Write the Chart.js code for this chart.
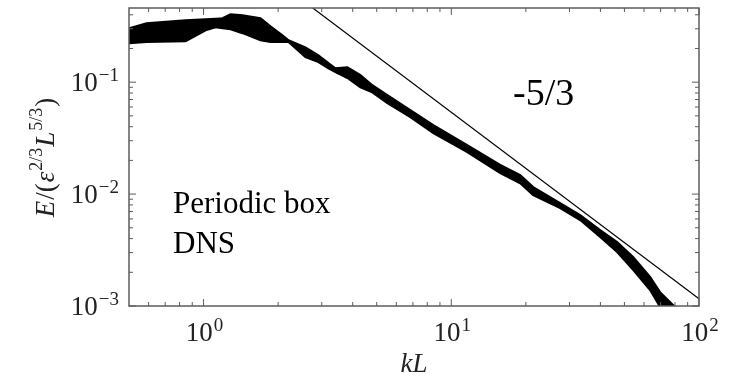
<!DOCTYPE html>
<html lang="en">
<head>
    <meta charset="UTF-8">
    <title>Energy spectrum</title>
    <script src="https://cdn.jsdelivr.net/npm/chart.js"></script>
    <style>
        body, html {
            margin: 0;
            padding: 0;
            background: #fff;
        }
    </style>
</head>
<body>
    <canvas id="spectrum" width="739" height="378"></canvas>

    <script>
        // band of DNS spectra: upper and lower edge at the same kL samples
        const kL = [0.5, 0.589, 0.846, 1.019, 1.118, 1.193, 1.285, 1.436, 1.697, 1.863,
                    2.082, 2.202, 2.578, 2.909, 3.192, 3.406, 3.808, 4.297, 4.802, 5.521,
                    6.834, 8.464, 11.6, 15.76, 18.98, 21.41, 27.51, 33.13, 39.89, 46.71,
                    54.19, 63.45, 69.63, 80.06, 91.99];
        const upperE = [0.303, 0.336, 0.358, 0.365, 0.369, 0.373, 0.405, 0.396, 0.373, 0.316,
                        0.263, 0.237, 0.205, 0.174, 0.148, 0.133, 0.136, 0.116, 0.094, 0.0766,
                        0.0562, 0.0413, 0.0274, 0.0182, 0.0148, 0.01155, 0.00831, 0.00649, 0.00477, 0.00373,
                        0.00274, 0.00182, 0.00133, 0.00098, 0.00061];
        const lowerE = [0.223, 0.228, 0.232, 0.291, 0.310, 0.303, 0.297, 0.274, 0.237, 0.228,
                        0.228, 0.228, 0.167, 0.151, 0.133, 0.123, 0.109, 0.090, 0.081, 0.065,
                        0.0487, 0.0350, 0.0237, 0.0154, 0.0125, 0.0098, 0.0075, 0.00586, 0.00413, 0.00303,
                        0.00210, 0.00139, 0.00098, 0.00061, 0.00037];

        // -5/3 reference line (end points)
        const slopeKL = [2.6, 100];
        const slopeE = [0.508, 0.00116];

        // axis ticks
        const xMajor = [1, 10, 100];
        const xExp = ['0', '1', '2'];
        const yMajor = [0.1, 0.01, 0.001];
        const yExp = ['\u22121', '\u22122', '\u22123'];

        const serif = '"Liberation Serif", "DejaVu Serif", serif';
        const frameColor = '#5c5c5c';

        function pts(xs, ys) {
            return xs.map((x, i) => ({ x: x, y: ys[i] }));
        }

        function minorTicks(min, max) {
            const out = [];
            for (let d = Math.floor(Math.log10(min)); d <= Math.ceil(Math.log10(max)); d++) {
                for (let m = 2; m <= 9; m++) {
                    const v = m * Math.pow(10, d);
                    if (v > min && v < max) out.push(v);
                }
            }
            return out;
        }

        function drawPow(ctx, exp, x, baseline, align) {
            ctx.font = '27px ' + serif;
            const wBase = ctx.measureText('10').width;
            ctx.font = '19px ' + serif;
            const wExp = ctx.measureText(exp).width + 1;
            const total = wBase + wExp;
            let start = x - total / 2;
            if (align === 'right') start = x - total;
            ctx.textAlign = 'left';
            ctx.font = '27px ' + serif;
            ctx.fillText('10', start, baseline);
            ctx.font = '19px ' + serif;
            ctx.fillText(exp, start + wBase + 1, baseline - 10);
        }

        const decorations = {
            id: 'decorations',
            afterDraw(chart) {
                const ctx = chart.ctx;
                const a = chart.chartArea;
                const xs = chart.scales.x;
                const ys = chart.scales.y;
                ctx.save();

                // frame
                ctx.strokeStyle = frameColor;
                ctx.lineWidth = 1.5;
                ctx.strokeRect(a.left, a.top, a.right - a.left, a.bottom - a.top);

                // inward ticks on all four sides
                ctx.lineWidth = 1;
                const tick = (v, len, horizontal) => {
                    ctx.beginPath();
                    if (horizontal) {
                        const p = xs.getPixelForValue(v);
                        ctx.moveTo(p, a.bottom); ctx.lineTo(p, a.bottom - len);
                        ctx.moveTo(p, a.top); ctx.lineTo(p, a.top + len);
                    } else {
                        const p = ys.getPixelForValue(v);
                        ctx.moveTo(a.left, p); ctx.lineTo(a.left + len, p);
                        ctx.moveTo(a.right, p); ctx.lineTo(a.right - len, p);
                    }
                    ctx.stroke();
                };
                xMajor.forEach(v => tick(v, 7, true));
                minorTicks(xs.min, xs.max).forEach(v => tick(v, 4, true));
                yMajor.forEach(v => tick(v, 7, false));
                minorTicks(ys.min, ys.max).forEach(v => tick(v, 4, false));

                // tick labels
                ctx.fillStyle = '#222';
                ctx.textBaseline = 'alphabetic';
                xMajor.forEach((v, i) => drawPow(ctx, xExp[i], xs.getPixelForValue(v) + 1, 341, 'center'));
                yMajor.forEach((v, i) => drawPow(ctx, yExp[i], a.left - 10, ys.getPixelForValue(v) + 9, 'right'));

                // x title
                ctx.font = 'italic 27px ' + serif;
                ctx.textAlign = 'center';
                ctx.fillText('kL', (a.left + a.right) / 2, 372);

                // y title, rotated, with superscripts
                const parts = [
                    { t: 'E', f: 'italic 27px ', dy: 0 },
                    { t: '/(', f: '27px ', dy: 0 },
                    { t: '\u03b5', f: 'italic 27px ', dy: 0 },
                    { t: '2/3', f: '18px ', dy: -12 },
                    { t: 'L', f: 'italic 27px ', dy: 0 },
                    { t: '5/3', f: '18px ', dy: -12 },
                    { t: ')', f: '27px ', dy: 0 }
                ];
                let total = 0;
                parts.forEach(p => { ctx.font = p.f + serif; p.w = ctx.measureText(p.t).width + 1; total += p.w; });
                ctx.save();
                ctx.translate(54, (a.top + a.bottom) / 2);
                ctx.rotate(-Math.PI / 2);
                ctx.textAlign = 'left';
                let cx = -total / 2;
                parts.forEach(p => {
                    ctx.font = p.f + serif;
                    ctx.fillText(p.t, cx, p.dy);
                    cx += p.w;
                });
                ctx.restore();

                // annotations
                ctx.fillStyle = '#000';
                ctx.textAlign = 'left';
                ctx.font = '38px ' + serif;
                ctx.fillText('-5/3', 513, 105);
                ctx.font = '31px ' + serif;
                ctx.fillText('Periodic box', 173, 213);
                ctx.fillText('DNS', 173, 253);

                ctx.restore();
            }
        };

        new Chart(document.getElementById('spectrum'), {
            type: 'scatter',
            data: {
                datasets: [
                    {
                        label: 'DNS upper',
                        data: pts(kL, upperE),
                        showLine: true,
                        borderColor: '#000',
                        borderWidth: 2,
                        pointRadius: 0,
                        fill: false
                    },
                    {
                        label: 'DNS lower',
                        data: pts(kL, lowerE),
                        showLine: true,
                        borderColor: '#000',
                        backgroundColor: '#000',
                        borderWidth: 2,
                        pointRadius: 0,
                        fill: '-1'
                    },
                    {
                        label: '-5/3',
                        data: pts(slopeKL, slopeE),
                        showLine: true,
                        borderColor: '#000',
                        borderWidth: 1.2,
                        pointRadius: 0,
                        fill: false
                    }
                ]
            },
            options: {
                responsive: false,
                animation: false,
                devicePixelRatio: 1,
                layout: { padding: { left: 129, right: 40, top: 8, bottom: 72 } },
                plugins: {
                    legend: { display: false },
                    tooltip: { enabled: false }
                },
                scales: {
                    x: { type: 'logarithmic', min: 0.5, max: 100, display: false },
                    y: { type: 'logarithmic', min: 0.001, max: 0.46, display: false }
                }
            },
            plugins: [decorations]
        });
    </script>
</body>
</html>
